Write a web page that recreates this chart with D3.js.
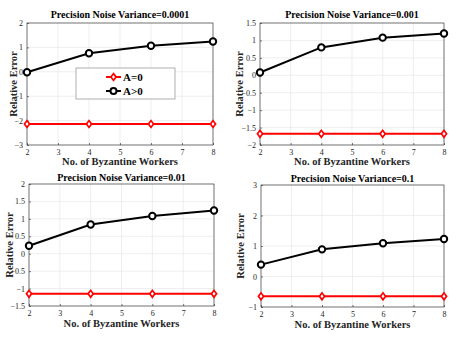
<!DOCTYPE html>
<html>
<head>
<meta charset="utf-8">
<script src="https://cdn.jsdelivr.net/npm/d3@7"></script>
<style>
  body { margin: 0; background: #fff; }
  svg { display: block; font-family: "Liberation Serif", "Times New Roman", serif; }
</style>
</head>
<body>
<svg id="chart" width="460" height="340"></svg>
<script>
// data
const workers = [2, 4, 6, 8]
const xTicks = [2, 3, 4, 5, 6, 7, 8]
const variances = ['0.0001', '0.001', '0.01', '0.1']
const zeroA = [
  [-2.14, -2.14, -2.14, -2.14],
  [-1.68, -1.68, -1.68, -1.68],
  [-1.15, -1.15, -1.15, -1.15],
  [-0.65, -0.65, -0.65, -0.65],
]
const posA = [
  [-0.02, 0.76, 1.07, 1.24],
  [0.08, 0.80, 1.08, 1.20],
  [0.23, 0.84, 1.08, 1.24],
  [0.39, 0.89, 1.09, 1.23],
]
const yDomains = [[-3, 2], [-2, 1.5], [-1.5, 2], [-1, 3]]
const yTicks = [
  [-3, -2, -1, 0, 1, 2],
  [-2, -1.5, -1, -0.5, 0, 0.5, 1, 1.5],
  [-1.5, -1, -0.5, 0, 0.5, 1, 1.5, 2],
  [-1, 0, 1, 2, 3],
]
const legendLabels = ['A=0', 'A>0']

// plot boxes [left, top, right, bottom], title / x-label baselines, y-label x position
const boxes = [
  { l: 27, t: 23, r: 213, b: 145, ty: 18, xy: 165, yl: 13 },
  { l: 260, t: 23, r: 444, b: 145, ty: 18, xy: 165, yl: 239 },
  { l: 29, t: 184, r: 214, b: 306, ty: 181, xy: 327, yl: 9 },
  { l: 261, t: 185, r: 444, b: 307, ty: 182, xy: 328, yl: 240 },
]

const svg = d3.select('#chart')

boxes.forEach((bx, i) => {
  const x = d3.scaleLinear().domain([2, 8]).range([bx.l, bx.r])
  const y = d3.scaleLinear().domain(yDomains[i]).range([bx.b, bx.t])
  const g = svg.append('g')

  // grid
  g.selectAll('.gx').data(xTicks).enter().append('line')
    .attr('x1', d => x(d)).attr('x2', d => x(d))
    .attr('y1', bx.t).attr('y2', bx.b)
    .attr('stroke', '#e6e6e6').attr('stroke-width', 0.7)
  g.selectAll('.gy').data(yTicks[i]).enter().append('line')
    .attr('x1', bx.l).attr('x2', bx.r)
    .attr('y1', d => y(d)).attr('y2', d => y(d))
    .attr('stroke', '#e6e6e6').attr('stroke-width', 0.7)

  // axes
  const xAxis = g.append('g').attr('transform', `translate(0,${bx.b})`)
    .call(d3.axisBottom(x).tickValues(xTicks).tickSize(-2).tickPadding(4).tickFormat(d3.format('d')))
  const yAxis = g.append('g').attr('transform', `translate(${bx.l},0)`)
    .call(d3.axisLeft(y).tickValues(yTicks[i]).tickSize(-2).tickPadding(4).tickFormat(d => d3.format('')(d)))
  ;[xAxis, yAxis].forEach(a => {
    a.select('.domain').remove()
    a.selectAll('line').attr('stroke', '#262626').attr('stroke-width', 0.6)
    a.selectAll('text').attr('fill', '#262626').attr('font-size', '8px')
      .attr('font-family', '"Liberation Serif", serif')
  })
  // box outline
  g.append('rect')
    .attr('x', bx.l).attr('y', bx.t)
    .attr('width', bx.r - bx.l).attr('height', bx.b - bx.t)
    .attr('fill', 'none').attr('stroke', '#262626').attr('stroke-width', 0.6)

  // labels
  g.append('text')
    .attr('x', (bx.l + bx.r) / 2).attr('y', bx.ty)
    .attr('text-anchor', 'middle').attr('font-weight', 'bold').attr('font-size', '10px')
    .text('Precision Noise Variance=' + variances[i])
  g.append('text')
    .attr('x', (bx.l + bx.r) / 2).attr('y', bx.xy)
    .attr('text-anchor', 'middle').attr('font-weight', 'bold').attr('font-size', '10.5px')
    .attr('fill', '#262626')
    .text('No. of Byzantine Workers')
  g.append('text')
    .attr('transform', `translate(${bx.yl},${(bx.t + bx.b) / 2}) rotate(-90)`)
    .attr('text-anchor', 'middle').attr('dy', '0.35em').attr('font-weight', 'bold').attr('font-size', '10.5px')
    .attr('fill', '#262626')
    .text('Relative Error')

  const line = d3.line().x((d, j) => x(workers[j])).y(d => y(d))

  // A=0 series (red, diamonds)
  g.append('path').attr('d', line(zeroA[i]))
    .attr('fill', 'none').attr('stroke', '#ff0000').attr('stroke-width', 2)
  g.selectAll('.dia').data(zeroA[i]).enter().append('path')
    .attr('d', d3.symbol(d3.symbolDiamond2, 30)())
    .attr('transform', (d, j) => `translate(${x(workers[j])},${y(d)}) scale(0.75,1)`)
    .attr('fill', '#fff').attr('stroke', '#ff0000').attr('stroke-width', 2)

  // A>0 series (black, circles)
  g.append('path').attr('d', line(posA[i]))
    .attr('fill', 'none').attr('stroke', '#000').attr('stroke-width', 2)
  g.selectAll('.circ').data(posA[i]).enter().append('circle')
    .attr('cx', (d, j) => x(workers[j])).attr('cy', d => y(d)).attr('r', 3.2)
    .attr('fill', '#fff').attr('stroke', '#000').attr('stroke-width', 2)

  // legend in first panel
  if (i === 0) {
    const lg = g.append('g')
    lg.append('rect').attr('x', 76).attr('y', 68).attr('width', 99).attr('height', 31)
      .attr('fill', '#fff').attr('stroke', '#8c8c8c').attr('stroke-width', 0.7)
    const colors = ['#ff0000', '#000']
    legendLabels.forEach((lab, k) => {
      const ly = 77 + k * 14
      lg.append('line').attr('x1', 106).attr('x2', 121).attr('y1', ly).attr('y2', ly)
        .attr('stroke', colors[k]).attr('stroke-width', 2)
      if (k === 0) {
        lg.append('path').attr('d', d3.symbol(d3.symbolDiamond2, 30)())
          .attr('transform', `translate(113.5,${ly}) scale(0.75,1)`)
          .attr('fill', '#fff').attr('stroke', colors[k]).attr('stroke-width', 2)
      } else {
        lg.append('circle').attr('cx', 113.5).attr('cy', ly).attr('r', 3)
          .attr('fill', '#fff').attr('stroke', colors[k]).attr('stroke-width', 2)
      }
      lg.append('text').attr('x', 123).attr('y', ly).attr('dy', '0.35em')
        .attr('font-weight', 'bold').attr('font-size', '11px').text(lab)
    })
  }
})
</script>
</body>
</html>
